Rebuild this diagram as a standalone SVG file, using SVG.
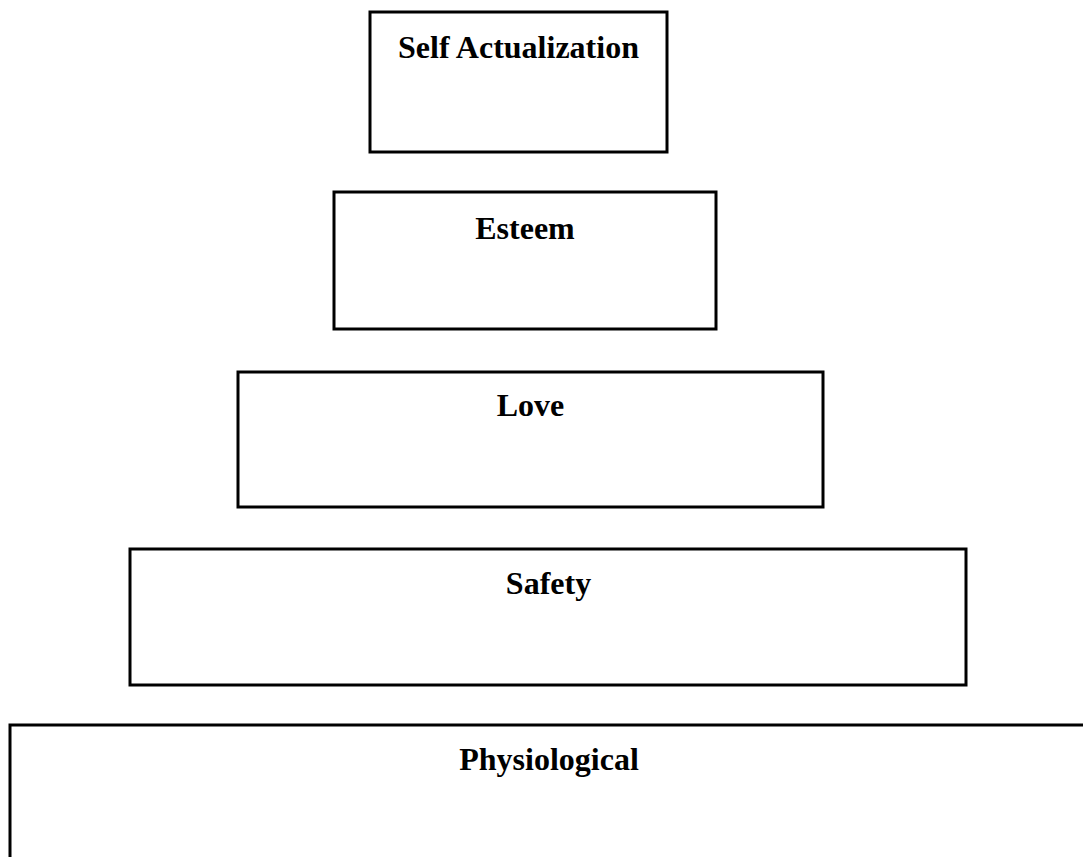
<svg xmlns="http://www.w3.org/2000/svg" width="1083" height="857" viewBox="0 0 1083 857">
<style>
.box{fill:#fff;stroke:#000;stroke-width:3}
.lbl{font-family:"Liberation Serif","Times New Roman",serif;font-weight:bold;font-size:32px;fill:#000;text-anchor:middle}
</style>
<rect width="1083" height="857" fill="#fff"/>
<g id="connectors"></g>
<g id="self-actualization">
<rect class="box" x="370" y="12" width="297" height="140"/>
<text class="lbl" x="518.5" y="58">Self Actualization</text>
</g>
<g id="esteem">
<rect class="box" x="334" y="192" width="382" height="137"/>
<text class="lbl" x="525" y="239">Esteem</text>
</g>
<g id="love">
<rect class="box" x="238" y="372" width="585" height="135"/>
<text class="lbl" x="530.5" y="416">Love</text>
</g>
<g id="safety">
<rect class="box" x="130" y="549" width="836" height="136"/>
<text class="lbl" x="548.5" y="594">Safety</text>
</g>
<g id="physiological">
<rect class="box" x="10" y="725" width="1078" height="150"/>
<text class="lbl" x="549" y="770">Physiological</text>
</g>
</svg>
